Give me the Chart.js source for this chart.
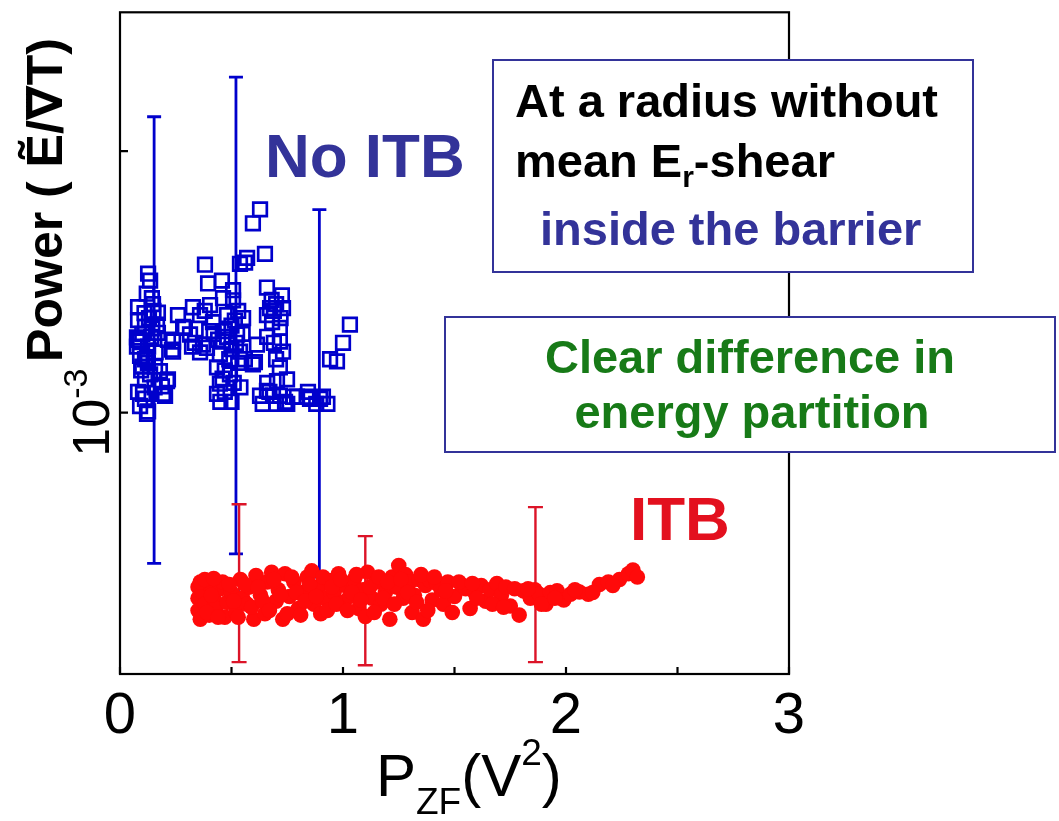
<!DOCTYPE html>
<html>
<head>
<meta charset="utf-8">
<script src="https://cdn.jsdelivr.net/npm/chart.js@4.4.0/dist/chart.umd.min.js"></script>
<style>
html,body{margin:0;padding:0;background:#fff;}
#wrap{width:1059px;height:821px;}
</style>
</head>
<body>
<div id="wrap"><canvas id="c" width="1059" height="821"></canvas></div>
<script>
// ---------- DATA ----------
const noItbX = [0.126,0.135,0.081,0.143,0.170,0.081,0.112,0.170,0.081,0.126,0.215,0.233,0.076,0.112,0.157,0.215,0.112,0.188,0.081,0.202,0.112,0.090,0.126,0.148,0.166,0.090,0.121,0.179,0.211,0.103,0.193,0.121,0.076,0.238,0.238,0.100,0.130,0.140,0.100,0.135,0.160,0.090,0.150,0.120,0.155,0.260,0.283,0.323,0.359,0.336,0.314,0.372,0.628,0.596,0.650,0.570,0.538,0.381,0.395,0.457,0.507,0.659,0.726,0.327,0.404,0.462,0.507,0.673,0.731,0.291,0.359,0.417,0.480,0.552,0.659,0.717,0.390,0.462,0.525,0.614,0.717,0.731,0.448,0.538,0.596,0.435,0.493,0.448,0.435,0.717,0.704,0.749,0.659,0.628,0.717,0.776,0.682,0.605,0.686,0.794,0.839,0.897,0.843,0.910,0.852,1.031,1.000,0.973,0.942,0.470,0.500,0.520,0.490,0.510,0.470,0.530,0.550,0.420,0.440,0.400,0.380,0.560,0.470,0.450,0.500,0.680,0.700,0.660,0.690,0.720,0.700,0.740,0.660,0.640,0.700,0.750,0.880,0.930,0.561,0.110,0.145,0.095,0.125,0.500,0.480,0.530,0.515,0.460,0.540,0.690,0.670];
const noItbY = [3.40e-3,3.20e-3,2.53e-3,2.74e-3,2.41e-3,2.26e-3,2.13e-3,2.02e-3,1.90e-3,1.79e-3,1.90e-3,1.74e-3,1.79e-3,1.60e-3,1.50e-3,1.34e-3,1.34e-3,1.26e-3,1.20e-3,1.16e-3,1.13e-3,1.06e-3,1.01e-3,2.60e-3,2.17e-3,1.87e-3,1.63e-3,1.44e-3,1.32e-3,1.18e-3,1.18e-3,0.99e-3,1.94e-3,1.87e-3,1.71e-3,2.00e-3,2.30e-3,1.95e-3,1.50e-3,1.40e-3,1.70e-3,1.65e-3,2.45e-3,2.85e-3,1.25e-3,2.36e-3,2.13e-3,1.79e-3,1.70e-3,1.85e-3,1.99e-3,1.82e-3,5.99e-3,5.30e-3,4.05e-3,3.91e-3,3.71e-3,3.68e-3,3.12e-3,3.20e-3,2.94e-3,3.01e-3,2.81e-3,2.53e-3,2.58e-3,2.74e-3,2.69e-3,2.51e-3,2.51e-3,2.11e-3,2.36e-3,2.22e-3,2.36e-3,2.30e-3,2.36e-3,2.11e-3,1.77e-3,1.87e-3,1.99e-3,1.82e-3,1.87e-3,1.71e-3,1.67e-3,1.71e-3,1.53e-3,1.49e-3,1.40e-3,1.29e-3,1.18e-3,1.49e-3,1.32e-3,1.34e-3,1.21e-3,1.16e-3,1.16e-3,1.15e-3,2.22e-3,1.56e-3,1.16e-3,1.15e-3,1.15e-3,1.13e-3,1.20e-3,1.15e-3,1.13e-3,2.17e-3,1.85e-3,1.57e-3,1.60e-3,2.05e-3,2.15e-3,1.85e-3,1.60e-3,1.30e-3,1.20e-3,2.45e-3,2.00e-3,2.00e-3,1.90e-3,2.05e-3,2.45e-3,1.60e-3,1.45e-3,1.10e-3,1.10e-3,2.70e-3,2.60e-3,1.95e-3,1.85e-3,2.30e-3,1.60e-3,1.10e-3,1.30e-3,1.08e-3,1.08e-3,1.08e-3,1.08e-3,1.08e-3,3.75e-3,2.40e-3,2.10e-3,1.45e-3,1.55e-3,1.75e-3,1.95e-3,1.55e-3,2.25e-3,1.35e-3,1.25e-3,2.45e-3,1.20e-3];

const itbX = [0.35,0.35,0.35,0.36,0.37,0.38,0.40,0.40,0.42,0.43,0.45,0.46,0.47,0.48,0.50,0.52,0.54,0.55,0.57,0.58,0.60,0.61,0.63,0.65,0.66,0.68,0.70,0.71,0.73,0.74,0.76,0.78,0.80,0.82,0.84,0.86,0.87,0.89,0.90,0.92,0.94,0.96,0.98,1.00,1.01,1.03,1.05,1.07,1.09,1.10,1.11,1.13,1.15,1.17,1.19,1.21,1.22,1.24,1.25,1.27,1.28,1.30,1.31,1.32,1.34,1.36,1.37,1.39,1.40,1.42,1.44,1.45,1.47,1.49,1.50,1.53,1.55,1.57,1.59,1.62,1.64,1.66,1.69,1.71,1.73,1.75,1.77,1.79,1.81,1.84,1.86,1.88,1.91,1.93,1.96,1.99,2.02,2.06,2.10,2.15,2.19,2.24,2.28,2.30,2.32,
  0.36,0.39,0.41,0.44,0.49,0.51,0.53,0.56,0.59,0.62,0.64,0.67,0.69,0.72,0.75,0.77,0.79,0.81,0.83,0.85,0.88,0.91,0.93,0.95,0.97,0.99,1.02,1.04,1.06,1.08,1.12,1.14,1.16,1.18,1.20,1.23,1.26,1.29,1.33,1.35,1.38,1.41,1.46,1.52,1.58,1.60,1.67,1.72,1.83,1.89,1.95,2.04,2.12,2.21,0.38,0.42];
const itbY = [2.15e-4,1.95e-4,1.75e-4,1.62e-4,2.05e-4,1.85e-4,2.20e-4,1.68e-4,1.95e-4,1.78e-4,2.12e-4,2.25e-4,1.65e-4,1.88e-4,2.05e-4,1.72e-4,2.30e-4,1.95e-4,1.85e-4,2.15e-4,1.62e-4,2.38e-4,2.00e-4,1.70e-4,2.25e-4,2.45e-4,1.90e-4,2.10e-4,1.62e-4,2.42e-4,1.98e-4,2.25e-4,1.78e-4,2.05e-4,2.35e-4,2.48e-4,1.85e-4,2.15e-4,1.70e-4,1.95e-4,2.28e-4,2.05e-4,2.42e-4,1.88e-4,2.18e-4,1.98e-4,2.30e-4,1.78e-4,2.10e-4,1.66e-4,2.45e-4,1.95e-4,2.25e-4,1.85e-4,2.05e-4,1.62e-4,2.35e-4,2.15e-4,2.60e-4,1.95e-4,2.40e-4,2.25e-4,1.72e-4,2.00e-4,2.30e-4,1.62e-4,2.18e-4,2.28e-4,1.92e-4,2.22e-4,2.10e-4,1.85e-4,2.25e-4,1.72e-4,1.98e-4,2.20e-4,2.12e-4,1.78e-4,2.05e-4,2.18e-4,1.90e-4,2.10e-4,2.22e-4,2.00e-4,2.15e-4,1.82e-4,2.12e-4,1.68e-4,2.08e-4,1.95e-4,2.10e-4,2.02e-4,1.85e-4,2.05e-4,2.08e-4,1.92e-4,2.02e-4,2.06e-4,2.02e-4,2.20e-4,2.25e-4,2.30e-4,2.42e-4,2.50e-4,2.35e-4,
  2.25e-4,1.72e-4,2.00e-4,1.65e-4,2.20e-4,1.90e-4,1.65e-4,2.20e-4,1.80e-4,2.15e-4,1.90e-4,1.75e-4,2.30e-4,2.00e-4,1.70e-4,2.35e-4,2.05e-4,1.68e-4,1.90e-4,2.20e-4,1.98e-4,2.35e-4,1.75e-4,2.15e-4,1.85e-4,2.30e-4,1.75e-4,2.05e-4,2.40e-4,1.92e-4,2.15e-4,1.72e-4,2.35e-4,1.95e-4,2.25e-4,1.85e-4,2.30e-4,2.05e-4,1.88e-4,2.40e-4,1.75e-4,2.35e-4,2.08e-4,2.25e-4,2.22e-4,1.95e-4,1.85e-4,1.80e-4,2.12e-4,1.85e-4,1.95e-4,2.10e-4,2.05e-4,2.18e-4,2.30e-4,2.32e-4];

const noItbErrX = [0.153, 0.520, 0.894];
const noItbErrLow = [2.65e-4, 2.88e-4, 2.35e-4];
const noItbErrHigh = [1.355e-2, 1.92e-2, 5.98e-3];

const itbErrX = [0.534, 1.100, 1.863];
const itbErrLow = [1.11e-4, 1.08e-4, 1.11e-4];
const itbErrHigh = [4.46e-4, 3.37e-4, 4.35e-4];

const xTickValues = [0, 0.5, 1, 1.5, 2, 2.5, 3];
const xTickLabels = ['0', '', '1', '', '2', '', '3'];
const yTickValues = [1e-3, 1e-2];
const yTickBase = ['10', ''];
const yTickExp = ['-3', ''];

// ---------- STYLE ----------
const FONT = '"Liberation Sans", Arial, "DejaVu Sans", sans-serif';
const BLUE = '#0000CC';
const NAVY = '#333399';
const RED = '#FF0A0A';
const RED_ERR = '#DC1428';
const GREEN = '#177A17';

function drawRich(ctx, x, y, parts) {
  let cx = x;
  for (const p of parts) {
    ctx.font = p.font;
    ctx.fillStyle = p.color;
    ctx.fillText(p.t, cx, y + (p.dy || 0));
    cx += ctx.measureText(p.t).width;
  }
  return cx;
}
function richWidth(ctx, parts) {
  let w = 0;
  for (const p of parts) { ctx.font = p.font; w += ctx.measureText(p.t).width; }
  return w;
}

function drawErrBars(chart, xs, lo, hi, color, lw, cap) {
  const ctx = chart.ctx, xs_ = chart.scales.x, ys = chart.scales.y;
  ctx.save();
  ctx.strokeStyle = color;
  ctx.lineWidth = lw;
  for (let i = 0; i < xs.length; i++) {
    const px = xs_.getPixelForValue(xs[i]);
    const y1 = ys.getPixelForValue(hi[i]);
    const y2 = ys.getPixelForValue(lo[i]);
    ctx.beginPath();
    ctx.moveTo(px, y1); ctx.lineTo(px, y2);
    ctx.moveTo(px - cap, y1); ctx.lineTo(px + cap, y1);
    ctx.moveTo(px - cap, y2); ctx.lineTo(px + cap, y2);
    ctx.stroke();
  }
  ctx.restore();
}

const decor = {
  id: 'decor',
  beforeDatasetsDraw(chart) {
    drawErrBars(chart, noItbErrX, noItbErrLow, noItbErrHigh, BLUE, 2.8, 7);
    drawErrBars(chart, itbErrX, itbErrLow, itbErrHigh, RED_ERR, 2.4, 7.5);
  },
  afterDraw(chart) {
    const ctx = chart.ctx, a = chart.chartArea;
    const xs = chart.scales.x, ys = chart.scales.y;
    ctx.save();
    // frame
    ctx.strokeStyle = '#000';
    ctx.lineWidth = 2.2;
    ctx.strokeRect(a.left, a.top, a.right - a.left, a.bottom - a.top);
    // ticks (inward)
    ctx.beginPath();
    xTickValues.forEach(v => {
      const px = xs.getPixelForValue(v);
      ctx.moveTo(px, a.bottom); ctx.lineTo(px, a.bottom - 7);
    });
    yTickValues.forEach(v => {
      const py = ys.getPixelForValue(v);
      ctx.moveTo(a.left, py); ctx.lineTo(a.left + 8, py);
    });
    ctx.stroke();
    // x tick labels
    ctx.fillStyle = '#000';
    ctx.textAlign = 'center';
    ctx.textBaseline = 'alphabetic';
    ctx.font = '58px ' + FONT;
    xTickValues.forEach((v, i) => {
      if (xTickLabels[i]) ctx.fillText(xTickLabels[i], xs.getPixelForValue(v), 733);
    });
    // y tick labels (rotated)
    ctx.textAlign = 'left';
    yTickValues.forEach((v, i) => {
      if (!yTickBase[i]) return;
      const py = ys.getPixelForValue(v);
      ctx.save();
      ctx.translate(109, py);
      ctx.rotate(-Math.PI / 2);
      const parts = [
        { t: yTickBase[i], font: '52px ' + FONT, color: '#000' },
        { t: yTickExp[i], font: '34px ' + FONT, color: '#000', dy: -22 }
      ];
      const w = richWidth(ctx, parts);
      drawRich(ctx, -w / 2, 0, parts);
      ctx.restore();
    });
    // x axis title
    drawRich(ctx, 376, 796, [
      { t: 'P', font: '60px ' + FONT, color: '#000' },
      { t: 'ZF', font: '37px ' + FONT, color: '#000', dy: 18 },
      { t: '(V', font: '60px ' + FONT, color: '#000' },
      { t: '2', font: '37px ' + FONT, color: '#000', dy: -31 },
      { t: ')', font: '60px ' + FONT, color: '#000' }
    ]);
    // y axis title
    ctx.save();
    ctx.translate(62, 200);
    ctx.rotate(-Math.PI / 2);
    ctx.textAlign = 'center';
    ctx.font = 'bold 50px ' + FONT;
    ctx.fillStyle = '#000';
    ctx.fillText('Power ( Ẽ/∇T)', 0, 0);
    ctx.restore();
    // series labels
    ctx.textAlign = 'left';
    ctx.font = 'bold 62px ' + FONT;
    ctx.fillStyle = NAVY;
    ctx.fillText('No ITB', 265, 177);
    ctx.fillStyle = '#E3101E';
    ctx.fillText('ITB', 630, 540);
    // box 1
    ctx.fillStyle = '#fff';
    ctx.fillRect(493, 60, 480, 212);
    ctx.strokeStyle = NAVY;
    ctx.lineWidth = 2;
    ctx.strokeRect(493, 60, 480, 212);
    ctx.font = 'bold 47px ' + FONT;
    ctx.fillStyle = '#000';
    ctx.fillText('At a radius without', 515, 117);
    drawRich(ctx, 515, 177, [
      { t: 'mean E', font: 'bold 47px ' + FONT, color: '#000' },
      { t: 'r', font: 'bold 30px ' + FONT, color: '#000', dy: 10 },
      { t: '-shear', font: 'bold 47px ' + FONT, color: '#000' }
    ]);
    ctx.font = 'bold 47px ' + FONT;
    ctx.fillStyle = NAVY;
    ctx.fillText('inside the barrier', 540, 245);
    // box 2
    ctx.fillStyle = '#fff';
    ctx.fillRect(445, 317, 610, 135);
    ctx.strokeStyle = NAVY;
    ctx.strokeRect(445, 317, 610, 135);
    ctx.textAlign = 'center';
    ctx.fillStyle = GREEN;
    ctx.font = 'bold 47px ' + FONT;
    ctx.fillText('Clear difference in', 750, 373);
    ctx.fillText('energy partition', 752, 428);
    ctx.restore();
  }
};

const ptsNo = noItbX.map((x, i) => ({ x: x, y: noItbY[i] }));
const ptsItb = itbX.map((x, i) => ({ x: x, y: itbY[i] }));

new Chart(document.getElementById('c'), {
  type: 'scatter',
  data: {
    datasets: [
      { label: 'ITB', data: ptsItb, pointStyle: 'circle', pointRadius: 7.8, pointBackgroundColor: RED, pointBorderWidth: 0, pointBorderColor: RED, order: 1 },
      { label: 'No ITB', data: ptsNo, pointStyle: 'rect', pointRadius: 9.6, pointBackgroundColor: 'rgba(0,0,0,0)', pointBorderColor: BLUE, pointBorderWidth: 2.7, order: 2 }
    ]
  },
  options: {
    responsive: false,
    animation: false,
    devicePixelRatio: 1,
    layout: { padding: { left: 120, right: 270, top: 5, bottom: 147 } },
    plugins: { legend: { display: false }, tooltip: { enabled: false } },
    scales: {
      x: { type: 'linear', min: 0, max: 3, display: false },
      y: { type: 'logarithmic', min: 1e-4, max: 0.034, display: false }
    }
  },
  plugins: [decor]
});
</script>
</body>
</html>
